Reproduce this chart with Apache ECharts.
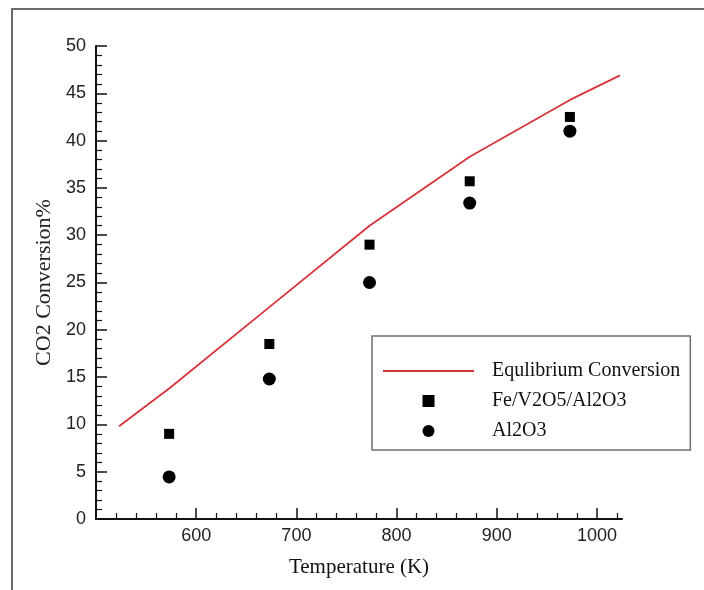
<!DOCTYPE html>
<html>
<head>
<meta charset="utf-8">
<script src="https://cdn.jsdelivr.net/npm/echarts@6/dist/echarts.min.js"></script>
<style>
  html, body { margin: 0; padding: 0; background: #fff; }
  #main { width: 704px; height: 590px; }
</style>
</head>
<body>
<div id="main"></div>
<script>
// values
var eqTemp = [523, 573, 673, 773, 873, 973, 1023];
var eqConv = [9.8, 13.8, 22.4, 31.0, 38.3, 44.3, 46.9];
var catTemp = [573, 673, 773, 873, 973];
var feConv = [9.0, 18.5, 29.0, 35.7, 42.5];
var alConv = [4.45, 14.8, 25.0, 33.4, 41.0];
var xTicks = [600, 700, 800, 900, 1000];

function pairs(xs, ys) {
    var out = [];
    for (var i = 0; i < xs.length; i++) {
        out.push([xs[i], ys[i]]);
    }
    return out;
}

var myChart = echarts.init(document.getElementById('main'));

myChart.setOption({
    backgroundColor: '#fff',
    animation: false,
    grid: { left: 96, right: 82, top: 46, bottom: 71 },
    graphic: [
        {
            type: 'polyline',
            shape: { points: [[12, 590], [12, 9], [704, 9]] },
            style: { stroke: '#6b6b6b', lineWidth: 2, fill: null }
        }
    ],
    legend: {
        orient: 'vertical',
        left: 372,
        top: 336,
        padding: [25, 10, 9, 10],
        itemGap: 10,
        itemWidth: 91,
        itemHeight: 12,
        symbolKeepAspect: true,
        borderColor: '#6e6e6e',
        borderWidth: 1.5,
        textStyle: {
            fontFamily: 'Liberation Serif',
            fontSize: 20,
            lineHeight: 20,
            color: '#111',
            padding: [0, 0, 0, 13]
        },
        data: [
            // hide the dot that line series put in their legend icon
            { name: 'Equlibrium Conversion', itemStyle: { color: 'rgba(0,0,0,0)', borderWidth: 0 } },
            { name: 'Fe/V2O5/Al2O3', icon: 'path://M0,0h10v10h-10z' },
            { name: 'Al2O3', icon: 'circle' }
        ]
    },
    xAxis: {
        type: 'value',
        min: 500,
        max: 1025,
        interval: 100,
        name: 'Temperature (K)',
        nameLocation: 'middle',
        nameGap: 38,
        nameTextStyle: { fontFamily: 'Liberation Serif', fontSize: 21, color: '#111' },
        axisLine: { lineStyle: { color: '#111', width: 2 } },
        axisTick: { inside: true, length: 11, customValues: xTicks, lineStyle: { color: '#111', width: 1.5 } },
        minorTick: { show: true, splitNumber: 5, length: 6, lineStyle: { color: '#111', width: 1.2 } },
        axisLabel: {
            customValues: xTicks,
            margin: 8,
            fontFamily: 'Liberation Sans',
            fontSize: 18,
            color: '#222',
            formatter: function (v) { return String(v); }
        },
        splitLine: { show: false }
    },
    yAxis: {
        type: 'value',
        min: 0,
        max: 50,
        interval: 5,
        name: 'CO2 Conversion%',
        nameLocation: 'middle',
        nameGap: 40,
        nameTextStyle: { fontFamily: 'Liberation Serif', fontSize: 22, color: '#222' },
        axisLine: { lineStyle: { color: '#111', width: 2 } },
        axisTick: { inside: true, length: 11, lineStyle: { color: '#111', width: 1.5 } },
        minorTick: { show: true, splitNumber: 5, length: 6, lineStyle: { color: '#111', width: 1.2 } },
        axisLabel: { margin: 10, fontFamily: 'Liberation Sans', fontSize: 18, color: '#222' },
        splitLine: { show: false }
    },
    series: [
        {
            name: 'Equlibrium Conversion',
            type: 'line',
            symbol: 'none',
            data: pairs(eqTemp, eqConv),
            lineStyle: { color: '#d6343b', width: 1.8 },
            itemStyle: { color: '#d6343b' }
        },
        {
            name: 'Fe/V2O5/Al2O3',
            type: 'scatter',
            symbol: 'rect',
            symbolSize: 10,
            data: pairs(catTemp, feConv),
            itemStyle: { color: '#000', opacity: 1 }
        },
        {
            name: 'Al2O3',
            type: 'scatter',
            symbol: 'circle',
            symbolSize: 13,
            data: pairs(catTemp, alConv),
            itemStyle: { color: '#000', opacity: 1 }
        }
    ]
});
</script>
</body>
</html>
